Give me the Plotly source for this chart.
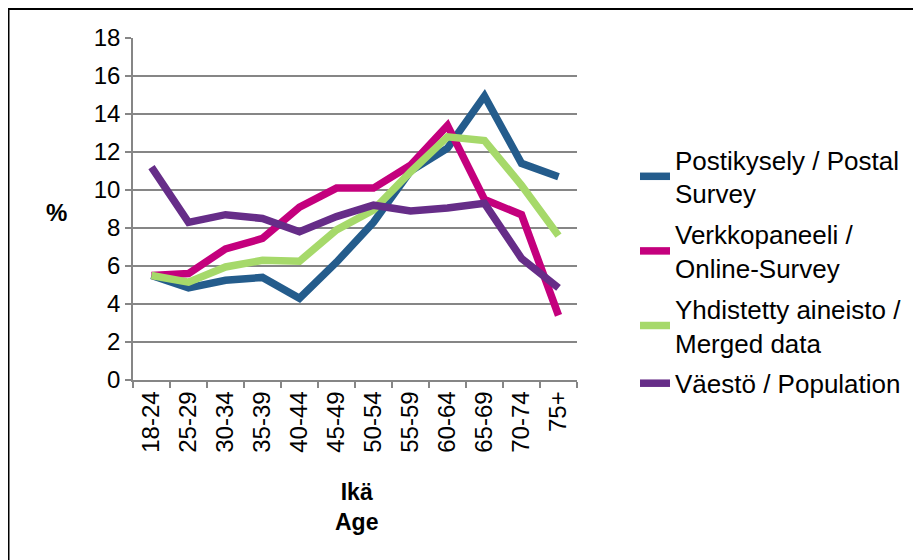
import plotly.graph_objects as go

ages = ["18-24", "25-29", "30-34", "35-39", "40-44", "45-49", "50-54",
        "55-59", "60-64", "65-69", "70-74", "75+"]
postal = [5.5, 4.85, 5.25, 5.4, 4.3, 6.2, 8.3, 11.0, 12.2, 14.95, 11.4, 10.7]
online = [5.5, 5.6, 6.9, 7.45, 9.1, 10.1, 10.1, 11.3, 13.4, 9.5, 8.7, 3.4]
merged = [5.5, 5.15, 5.95, 6.3, 6.25, 7.9, 8.95, 10.95, 12.8, 12.6, 10.25, 7.6]
population = [11.2, 8.3, 8.7, 8.5, 7.8, 8.6, 9.2, 8.9, 9.05, 9.3, 6.4, 4.85]

names = ["Postikysely / Postal<br>Survey",
         "Verkkopaneeli /<br>Online-Survey",
         "Yhdistetty aineisto /<br>Merged data",
         "Väestö / Population"]
colors = ["#245C8C", "#C4007D", "#A6D96A", "#662D88"]
series = [postal, online, merged, population]

fig = go.Figure()
for i, (n, c, s) in enumerate(zip(names, colors, series)):
    fig.add_trace(go.Scatter(x=ages, y=s, name=n, mode="lines",
                             legendgroup=str(i),
                             line=dict(color=c, width=7.5)))

OFF = 8  # page body margin
W, H = 921, 560
L, T = 133 - OFF, 38 - OFF
PR, PB = 577 - OFF, 380 - OFF
R, B = W - PR, H - PB
pw, ph = PR - L, PB - T

def px(x):
    return (x - OFF - L) / pw

def py(y):
    return (PB - (y - OFF)) / ph

font = "Liberation Sans, Arial, sans-serif"
fig.update_layout(
    width=W, height=H,
    margin=dict(l=L, r=R, t=T, b=B, pad=0),
    paper_bgcolor="white", plot_bgcolor="white",
    font=dict(family=font, size=24, color="black"),
    showlegend=True,
    legend=dict(x=px(635), y=py(136), xanchor="left", yanchor="top",
                font=dict(size=26), tracegroupgap=4,
                bgcolor="rgba(0,0,0,0)"),
    xaxis=dict(type="category", tickangle=-90, showgrid=False,
               showline=True, linecolor="#868686", linewidth=1.5,
               ticks="outside", ticklen=6, tickcolor="#868686",
               tickwidth=1.5, tickson="boundaries",
               tickfont=dict(size=24), range=[-0.5, 11.5]),
    yaxis=dict(range=[0, 18], dtick=2, showgrid=True, gridcolor="#868686",
               gridwidth=1.5, showline=True, linecolor="#868686",
               linewidth=1.5, ticks="outside", ticklen=6,
               tickcolor="#868686", tickwidth=1.5, zeroline=False,
               tickfont=dict(size=24)),
)

fig.add_annotation(text="<b>%</b>", xref="paper", yref="paper",
                   x=px(56), y=py(212), xanchor="center", yanchor="middle",
                   showarrow=False, font=dict(size=24))
fig.add_annotation(text="<b>Ikä<br>Age</b>", xref="paper", yref="paper",
                   x=px(356), y=py(507), xanchor="center", yanchor="middle",
                   showarrow=False, font=dict(size=23))

fig.add_shape(type="rect", xref="paper", yref="paper",
              x0=px(8.5), x1=px(940), y0=py(580), y1=py(9),
              line=dict(color="black", width=2), layer="below")

fig.write_html("out.html")
